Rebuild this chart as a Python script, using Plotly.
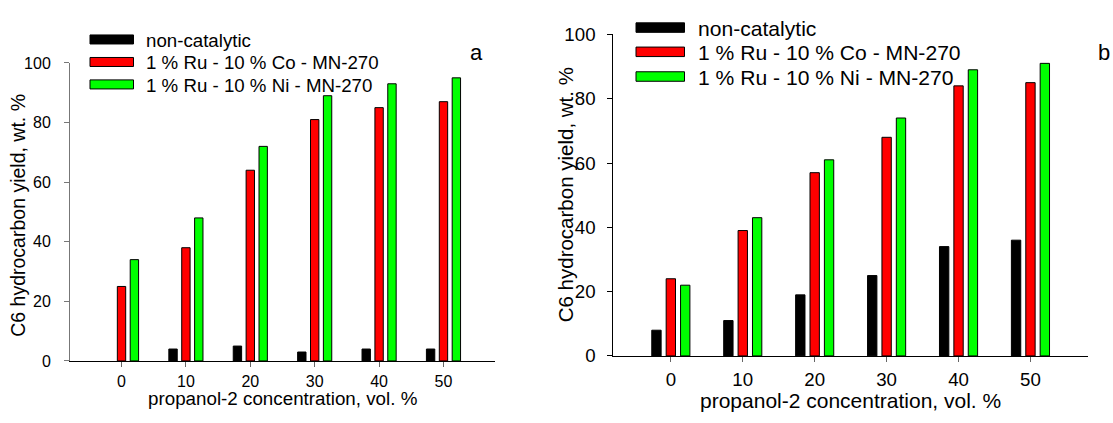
import plotly.graph_objects as go

concentration = [0, 10, 20, 30, 40, 50]
series_names = ["non-catalytic", "1 % Ru - 10 % Co - MN-270", "1 % Ru - 10 % Ni - MN-270"]
series_colors = ["#000000", "#ff0000", "#00ff00"]

a_noncat = [None, 4, 5, 3, 4, 4]
a_co = [25, 38, 64, 81, 85, 87]
a_ni = [34, 48, 72, 89, 93, 95]

b_noncat = [8, 11, 19, 25, 34, 36]
b_co = [24, 39, 57, 68, 84, 85]
b_ni = [22, 43, 61, 74, 89, 91]

y_ticks = [0, 20, 40, 60, 80, 100]
x_title = "propanol-2 concentration, vol. %"
y_title = "C6 hydrocarbon yield, wt. %"

W, H = 1113, 423
FONT = "Arial, Liberation Sans, sans-serif"


def px_x(v):
    return v / W


def px_y(v):
    return (H - v) / H


fig = go.Figure()

bar_w = 1.3
offsets = [-2 - bar_w / 2, -bar_w / 2, 2 - bar_w / 2]

panels = [
    dict(data=[a_noncat, a_co, a_ni], xa="x", ya="y"),
    dict(data=[b_noncat, b_co, b_ni], xa="x2", ya="y2"),
]
for p in panels:
    for name, vals, col, off in zip(series_names, p["data"], series_colors, offsets):
        fig.add_trace(go.Bar(
            x=concentration, y=vals, name=name, showlegend=False,
            width=bar_w, offset=off,
            marker=dict(color=col, line=dict(color="#000000", width=1)),
            xaxis=p["xa"], yaxis=p["ya"],
        ))

axis_common = dict(showgrid=False, zeroline=False, showline=True, ticks="outside",
                   ticklen=5, linewidth=1, mirror=False)

fig.update_layout(
    width=W, height=H,
    margin=dict(l=0, r=0, t=0, b=0),
    paper_bgcolor="white", plot_bgcolor="white",
    barmode="overlay",
    font=dict(family=FONT, size=16, color="#000000"),
    xaxis=dict(domain=[px_x(70), px_x(495)], range=[-8, 58], tickvals=concentration,
               anchor="y", tickfont=dict(size=16), linecolor="#000000",
               tickcolor="#666666", ticklabelstandoff=1, **axis_common),
    yaxis=dict(domain=[px_y(369.3), px_y(55.7)], range=[0, 100], tickvals=y_ticks,
               anchor="x", tickfont=dict(size=16), linecolor="#777777",
               tickcolor="#777777", ticklabelstandoff=10, **axis_common),
    xaxis2=dict(domain=[px_x(613.3), px_x(1088)], range=[-8, 58], tickvals=concentration,
                anchor="y2", tickfont=dict(size=18.7), linecolor="#000000",
                tickcolor="#666666", ticklabelstandoff=2, **axis_common),
    yaxis2=dict(domain=[px_y(364), px_y(25.7)], range=[0, 100], tickvals=y_ticks,
                anchor="x2", tickfont=dict(size=18.7), linecolor="#000000",
                tickcolor="#000000", ticklabelstandoff=8, **axis_common),
)

# axis titles
titles = [
    dict(x=282.5, y=408.5, text=x_title, size=18.8, angle=0),
    dict(x=18, y=216.5, text=y_title, size=19.5, angle=-90),
    dict(x=850.7, y=411, text=x_title, size=21, angle=0),
    dict(x=565, y=195, text=y_title, size=20.5, angle=-90),
]
for t in titles:
    fig.add_annotation(xref="paper", yref="paper", x=px_x(t["x"]), y=px_y(t["y"]),
                       text=t["text"], showarrow=False, textangle=t["angle"],
                       xanchor="center", yanchor="middle",
                       font=dict(size=t["size"], family=FONT, color="#000000"))

# custom legends (wide swatches, as in the reference)
legends = [
    dict(x0=90, x1=133.5, ys=[31, 54.7, 78.3], tx=144, h=9.5, size=18.7),
    dict(x0=636, x1=684.5, ys=[18.5, 44, 70], tx=696, h=10, size=21.1),
]
for lg in legends:
    for name, col, yc in zip(series_names, series_colors, lg["ys"]):
        fig.add_shape(type="rect", xref="paper", yref="paper",
                      x0=px_x(lg["x0"]), x1=px_x(lg["x1"]),
                      y0=px_y(yc + lg["h"] / 2), y1=px_y(yc - lg["h"] / 2),
                      fillcolor=col, line=dict(color="#000000", width=1))
        fig.add_annotation(xref="paper", yref="paper", x=px_x(lg["tx"]), y=px_y(yc + 1),
                           text=name, showarrow=False, xanchor="left", yanchor="middle",
                           font=dict(size=lg["size"], family=FONT, color="#000000"))

fig.add_annotation(xref="paper", yref="paper", x=px_x(476.8), y=px_y(45), text="a",
                   showarrow=False, xanchor="center", yanchor="middle",
                   font=dict(size=22, family=FONT, color="#000000"))
fig.add_annotation(xref="paper", yref="paper", x=px_x(1104), y=px_y(45), text="b",
                   showarrow=False, xanchor="center", yanchor="middle",
                   font=dict(size=22, family=FONT, color="#000000"))

fig.write_html(
    "out.html",
    config={"displayModeBar": False},
    post_script="document.body.style.margin='0';document.body.style.overflow='hidden';"
                "document.documentElement.style.overflow='hidden';",
)
